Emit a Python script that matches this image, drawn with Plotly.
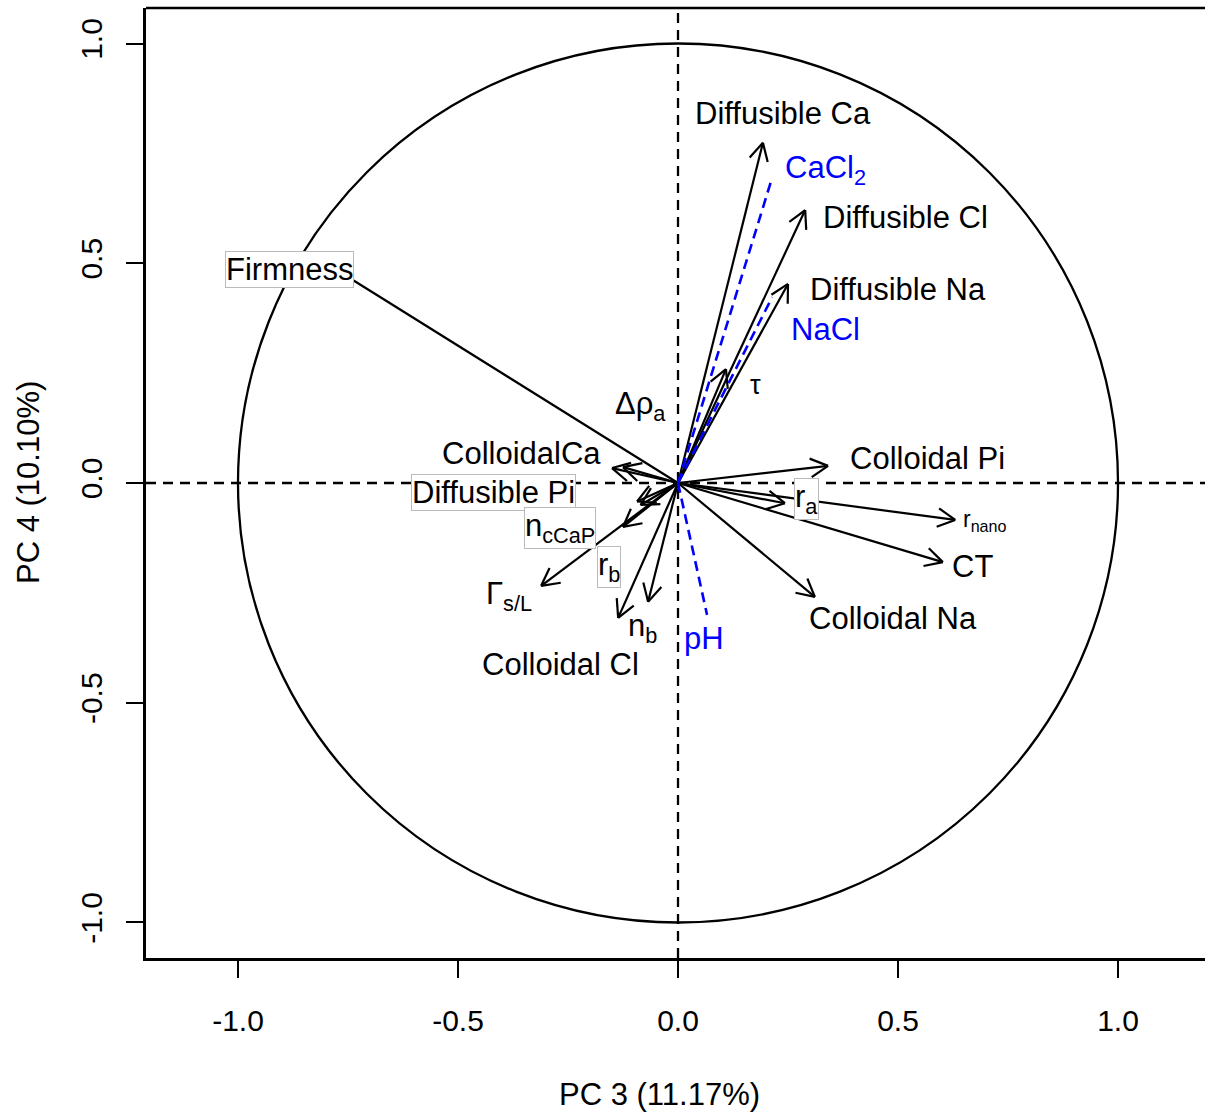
import math
import plotly.graph_objects as go

# ---- data (PCA loadings on PC3 / PC4) ----
active_vars = ["Firmness", "Diffusible Ca", "Diffusible Cl", "Diffusible Na", "tau", "drho_a",
               "ColloidalCa", "Diffusible Pi", "n_cCaP", "r_b", "Gamma_sL", "Colloidal Cl",
               "n_b", "Colloidal Pi", "r_a", "r_nano", "CT", "Colloidal Na"]
active_pc3 = [-0.80, 0.193, 0.289, 0.250, 0.109, -0.125, -0.150, -0.093, -0.125, -0.085,
              -0.311, -0.136, -0.068, 0.341, 0.243, 0.630, 0.602, 0.311]
active_pc4 = [0.50, 0.774, 0.621, 0.453, 0.259, 0.036, 0.034, -0.042, -0.100, -0.050,
              -0.234, -0.307, -0.270, 0.039, -0.046, -0.084, -0.180, -0.259]

supp_vars = ["CaCl2", "NaCl", "pH"]
supp_pc3 = [0.211, 0.214, 0.066]
supp_pc4 = [0.685, 0.423, -0.300]

tick_vals = [-1.0, -0.5, 0.0, 0.5, 1.0]
tick_text = ["-1.0", "-0.5", "0.0", "0.5", "1.0"]
x_title = "PC 3 (11.17%)"
y_title = "PC 4 (10.10%)"

# ---- label display (text, position in data units, boxed?) ----
label_text = {
    "Firmness": "Firmness", "Diffusible Ca": "Diffusible Ca", "Diffusible Cl": "Diffusible Cl",
    "Diffusible Na": "Diffusible Na", "tau": "τ", "drho_a": "Δρ<sub>a</sub>",
    "ColloidalCa": "ColloidalCa", "Diffusible Pi": "Diffusible Pi", "n_cCaP": "n<sub>cCaP</sub>",
    "r_b": "r<sub>b</sub>", "Gamma_sL": "Γ<sub>s/L</sub>", "Colloidal Cl": "Colloidal Cl",
    "n_b": "n<sub>b</sub>", "Colloidal Pi": "Colloidal Pi", "r_a": "r<sub>a</sub>",
    "r_nano": "r<sub>nano</sub>", "CT": "CT", "Colloidal Na": "Colloidal Na",
    "CaCl2": "CaCl<sub>2</sub>", "NaCl": "NaCl", "pH": "pH",
}
label_pos = {
    "Firmness": (-0.882, 0.485), "Diffusible Ca": (0.239, 0.840), "Diffusible Cl": (0.518, 0.603),
    "Diffusible Na": (0.500, 0.441), "tau": (0.175, 0.223), "drho_a": (-0.086, 0.175),
    "ColloidalCa": (-0.355, 0.068), "Diffusible Pi": (-0.420, -0.021), "n_cCaP": (-0.268, -0.103),
    "r_b": (-0.157, -0.192), "Gamma_sL": (-0.384, -0.258), "Colloidal Cl": (-0.266, -0.412),
    "n_b": (-0.080, -0.330), "Colloidal Pi": (0.566, 0.055), "r_a": (0.293, -0.036),
    "r_nano": (0.698, -0.086), "CT": (0.670, -0.191), "Colloidal Na": (0.489, -0.309),
    "CaCl2": (0.336, 0.712), "NaCl": (0.336, 0.350), "pH": (0.059, -0.353),
}
boxed = {"Firmness", "Diffusible Pi", "n_cCaP", "r_a", "r_b"}
label_size = {"r_nano": 23, "tau": 27}

FONT = "Liberation Sans, Arial, sans-serif"
HEAD_LEN = 0.045   # arrow head length in data units
HEAD_ANG = math.radians(28)

def arrow_path(xs, ys, heads=True):
    px, py = [], []
    for x, y in zip(xs, ys):
        px += [0, x, None]
        py += [0, y, None]
        if heads:
            th = math.atan2(y, x)
            for s in (1, -1):
                px += [x - HEAD_LEN * math.cos(th + s * HEAD_ANG), x, None]
                py += [y - HEAD_LEN * math.sin(th + s * HEAD_ANG), y, None]
    return px, py

fig = go.Figure()

ax_, ay_ = arrow_path(active_pc3, active_pc4, heads=True)
fig.add_trace(go.Scatter(x=ax_, y=ay_, mode="lines", line=dict(color="black", width=2.2),
                         hoverinfo="skip", showlegend=False))
sx_, sy_ = arrow_path(supp_pc3, supp_pc4, heads=False)
fig.add_trace(go.Scatter(x=sx_, y=sy_, mode="lines",
                         line=dict(color="#0000FF", width=2.6, dash="10px,6px"),
                         hoverinfo="skip", showlegend=False))

annotations = []
for name in active_vars + supp_vars:
    lx, ly = label_pos[name]
    color = "#0000FF" if name in supp_vars else "black"
    a = dict(x=lx, y=ly, xref="x", yref="y", text=label_text[name], showarrow=False,
             xanchor="center", yanchor="middle",
             font=dict(family=FONT, size=label_size.get(name, 31), color=color))
    if name in boxed:
        a.update(bgcolor="white", bordercolor="#bbbbbb", borderwidth=1, borderpad=0)
    annotations.append(a)

annotations.append(dict(x=0.485, y=-0.144, xref="paper", yref="paper", text=x_title,
                        xanchor="center", yanchor="middle", showarrow=False,
                        font=dict(family=FONT, size=31, color="black")))
annotations.append(dict(x=-0.1114, y=0.5, xref="paper", yref="paper", text=y_title,
                        xanchor="center", yanchor="middle", textangle=-90, showarrow=False,
                        font=dict(family=FONT, size=31, color="black")))

shapes = [
    dict(type="circle", xref="x", yref="y", x0=-1, y0=-1, x1=1, y1=1,
         line=dict(color="black", width=2.3), layer="below"),
    dict(type="line", xref="x", yref="paper", x0=0, x1=0, y0=0, y1=1,
         line=dict(color="black", width=2.3, dash="10px,7px"), layer="below"),
    dict(type="line", xref="paper", yref="y", x0=0, x1=1, y0=0, y1=0,
         line=dict(color="black", width=2.3, dash="10px,7px"), layer="below"),
    dict(type="line", xref="paper", yref="paper", x0=0, x1=1, y0=1, y1=1,
         line=dict(color="black", width=2.5)),
]

fig.update_layout(
    width=1205, height=1116,
    margin=dict(l=146, r=0, t=8, b=158, pad=0),
    paper_bgcolor="white", plot_bgcolor="white",
    showlegend=False,
    annotations=annotations, shapes=shapes,
    xaxis=dict(range=[-1.2091, 1.1977], tickvals=tick_vals, ticktext=tick_text,
               showgrid=False, zeroline=False, showline=True, linecolor="black", linewidth=2.5,
               ticks="outside", ticklen=17, tickwidth=2, tickcolor="black",
               ticklabelstandoff=17,
               tickfont=dict(family=FONT, size=30, color="black")),
    yaxis=dict(range=[-1.0808, 1.0808], tickvals=tick_vals, ticktext=tick_text,
               showgrid=False, zeroline=False, showline=True, linecolor="black", linewidth=2.5,
               ticks="outside", ticklen=17, tickwidth=2, tickcolor="black",
               tickangle=-90, ticklabelstandoff=12,
               tickfont=dict(family=FONT, size=30, color="black")),
)

fig.write_html("out.html")
